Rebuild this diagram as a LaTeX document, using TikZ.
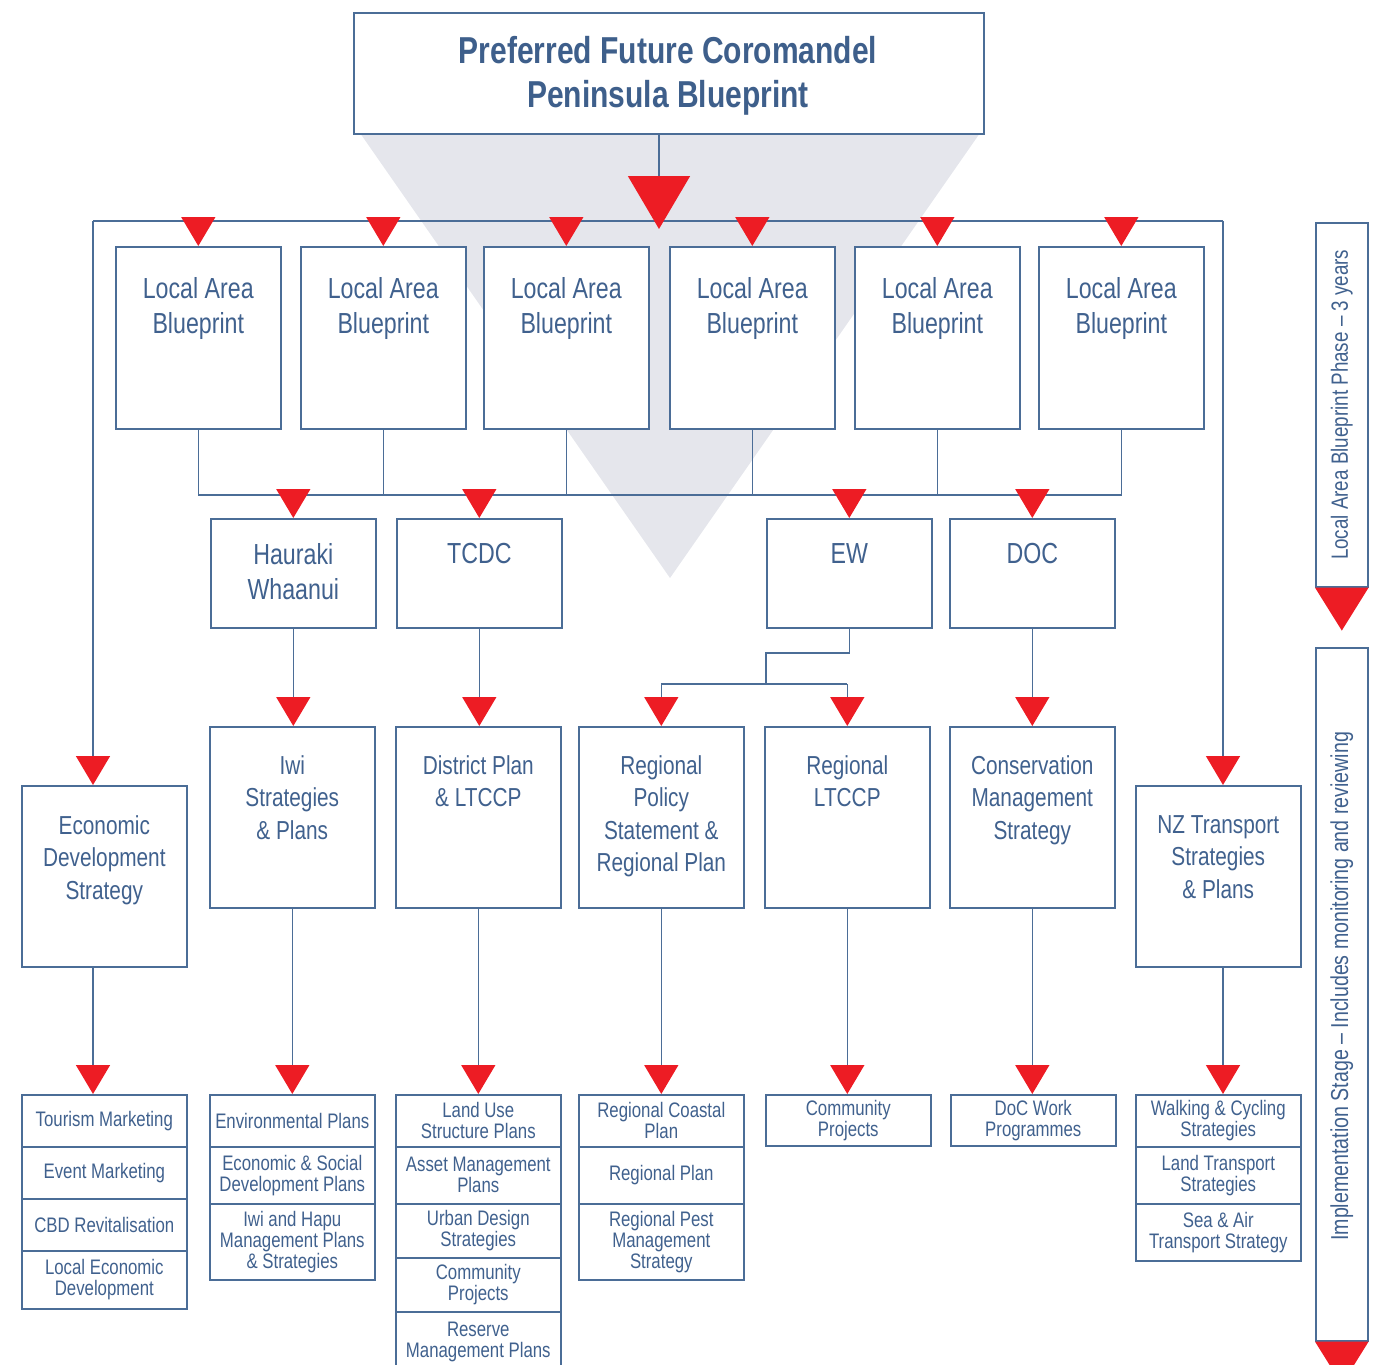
\documentclass[tikz,border=0pt]{standalone}
\usepackage{fontspec}
\setmainfont{Liberation Sans}[FakeStretch=0.8]
\usepackage{tikz}
\usetikzlibrary{arrows.meta}
\definecolor{cline}{HTML}{4B6D97}
\definecolor{ctext}{HTML}{40618E}
\definecolor{ctitle}{HTML}{3E5F8B}
\definecolor{tred}{HTML}{ED1C24}
\definecolor{tgray}{HTML}{E5E6EC}
\tikzset{
  conn/.style={draw=cline, line width=1.6pt},
  tip/.style={conn, -{Triangle[width=34pt, length=29pt, color=tred]}},
  bigtip/.style={conn, -{Triangle[width=62pt, length=53pt, color=tred]}},
  box/.style={shape=rectangle, draw=cline, line width=1.6pt, fill=white, anchor=north west, inner sep=0pt, minimum width=165pt},
  txt/.style={text=ctext, align=center, anchor=north, inner sep=0pt},
  big/.style={font=\fontsize{29}{35}\selectfont},
  mid/.style={font=\fontsize{26}{32.5}\selectfont},
  cell/.style={box, text=ctext, align=center, font=\fontsize{21}{21}\selectfont},
}
\begin{document}
\begin{tikzpicture}[x=1pt, y=-1pt]
\useasboundingbox (0,0) rectangle (1377,1365);
% grey wedge behind
\fill[tgray] (360,133) -- (980,133) -- (670,578) -- cycle;

\node at (353,12) [box, minimum width=630pt, minimum height=121pt] (title) {};
\node at (668,36) [txt, text=ctitle, font=\bfseries\fontsize{37.5}{44}\selectfont] (titlet) {Preferred Future Coromandel\\Peninsula Blueprint};

% local area blueprints
\node at (115,246) [box, minimum height=182pt] (lab1) {};
\node at (300,246) [box, minimum height=182pt] (lab2) {};
\node at (483,246) [box, minimum height=182pt] (lab3) {};
\node at (669,246) [box, minimum height=182pt] (lab4) {};
\node at (854,246) [box, minimum height=182pt] (lab5) {};
\node at (1038,246) [box, minimum height=182pt] (lab6) {};
\node at (lab1.north) [txt, big, yshift=-31pt] (lab1t) {Local Area\\Blueprint};
\node at (lab2.north) [txt, big, yshift=-31pt] (lab2t) {Local Area\\Blueprint};
\node at (lab3.north) [txt, big, yshift=-31pt] (lab3t) {Local Area\\Blueprint};
\node at (lab4.north) [txt, big, yshift=-31pt] (lab4t) {Local Area\\Blueprint};
\node at (lab5.north) [txt, big, yshift=-31pt] (lab5t) {Local Area\\Blueprint};
\node at (lab6.north) [txt, big, yshift=-31pt] (lab6t) {Local Area\\Blueprint};

% agencies
\node at (210,518) [box, minimum height=109pt] (hw) {};
\node at (396,518) [box, minimum height=109pt] (tcdc) {};
\node at (766,518) [box, minimum height=109pt] (ew) {};
\node at (949,518) [box, minimum height=109pt] (doc) {};
\node at (hw.north) [txt, big, yshift=-25pt] (hwt) {Hauraki\\Whaanui};
\node at (tcdc.north) [txt, big, yshift=-25pt] (tcdct) {TCDC};
\node at (ew.north) [txt, big, yshift=-25pt] (ewt) {EW};
\node at (doc.north) [txt, big, yshift=-25pt] (doct) {DOC};

% strategies and plans
\node at (21,785) [box, minimum height=181pt] (eds) {};
\node at (209,726) [box, minimum height=181pt] (iwi) {};
\node at (395,726) [box, minimum height=181pt] (dp) {};
\node at (578,726) [box, minimum height=181pt] (rps) {};
\node at (764,726) [box, minimum height=181pt] (rlt) {};
\node at (949,726) [box, minimum height=181pt] (cms) {};
\node at (1135,785) [box, minimum height=181pt] (nzt) {};
\node at (eds.north) [txt, mid, yshift=-30pt] (edst) {Economic\\Development\\Strategy};
\node at (iwi.north) [txt, mid, yshift=-29pt] (iwit) {Iwi\\Strategies\\\& Plans};
\node at (dp.north) [txt, mid, yshift=-29pt] (dpt) {District Plan\\\& LTCCP};
\node at (rps.north) [txt, mid, yshift=-29pt] (rpst) {Regional\\Policy\\Statement \&\\Regional Plan};
\node at (rlt.north) [txt, mid, yshift=-29pt] (rltt) {Regional\\LTCCP};
\node at (cms.north) [txt, mid, yshift=-29pt] (cmst) {Conservation\\Management\\Strategy};
\node at (nzt.north) [txt, mid, yshift=-30pt] (nztt) {NZ Transport\\Strategies\\\& Plans};

% outputs
\node at (21,1094) [cell, minimum height=52pt] (c1a) {Tourism Marketing};
\node at (21,1146) [cell, minimum height=52pt] (c1b) {Event Marketing};
\node at (21,1198) [cell, minimum height=52pt] (c1c) {CBD Revitalisation};
\node at (21,1250) [cell, minimum height=58pt] (c1d) {Local Economic\\Development};
\node at (209,1094) [cell, minimum height=52pt] (c2a) {Environmental Plans};
\node at (209,1146) [cell, minimum height=57pt] (c2b) {Economic \& Social\\Development Plans};
\node at (209,1203) [cell, minimum height=76pt] (c2c) {Iwi and Hapu\\Management Plans\\\& Strategies};
\node at (395,1094) [cell, minimum height=52pt] (c3a) {Land Use\\Structure Plans};
\node at (395,1146) [cell, minimum height=57pt] (c3b) {Asset Management\\Plans};
\node at (395,1203) [cell, minimum height=54pt] (c3c) {Urban Design\\Strategies};
\node at (395,1257) [cell, minimum height=54pt] (c3d) {Community\\Projects};
\node at (395,1311) [cell, minimum height=60pt] (c3e) {Reserve\\Management Plans};
\node at (578,1094) [cell, minimum height=52pt] (c4a) {Regional Coastal\\Plan};
\node at (578,1146) [cell, minimum height=57pt] (c4b) {Regional Plan};
\node at (578,1203) [cell, minimum height=76pt] (c4c) {Regional Pest\\Management\\Strategy};
\node at (765,1094) [cell, minimum height=51pt] (c5a) {Community\\Projects};
\node at (950,1094) [cell, minimum height=51pt] (c6a) {DoC Work\\Programmes};
\node at (1135,1094) [cell, minimum height=52pt] (c7a) {Walking \& Cycling\\Strategies};
\node at (1135,1146) [cell, minimum height=57pt] (c7b) {Land Transport\\Strategies};
\node at (1135,1203) [cell, minimum height=57pt] (c7c) {Sea \& Air\\Transport Strategy};

% phases on the right
\node at (1315,222) [box, minimum width=52pt, minimum height=364pt] (phase) {};
\node at (1315,647) [box, minimum width=52pt, minimum height=693pt] (impl) {};
\fill[tred] (phase.south west) -- (phase.south east) -- ([yshift=-43pt]phase.south) -- cycle;
\fill[tred] (impl.south west) -- (impl.south east) -- ([yshift=-43pt]impl.south) -- cycle;
\node at (phase.center) [rotate=90, text=ctext, inner sep=0pt, font=\fontsize{23.5}{26}\selectfont] (phaset) {Local Area Blueprint Phase – 3 years};
\node at ([yshift=8pt]impl.center) [rotate=90, text=ctext, inner sep=0pt, font=\fontsize{24.5}{26}\selectfont] (implt) {Implementation Stage – Includes monitoring and reviewing};

% connectors
\coordinate (apex) at (659,229);
\coordinate (busL) at (93,221);
\coordinate (busR) at (1223,221);
\coordinate (low) at (0,495);
\coordinate (ewjog) at (766,653);
\coordinate (ewbar) at (0,684);
\draw[conn] (busL) -- (busR);
\draw[bigtip] (title.south -| apex) -- (apex);
\draw[tip] (busL) -- (busL |- eds.north);
\draw[tip] (busR) -- (busR |- nzt.north);
\draw[tip] (lab1.north |- busL) -- (lab1.north);
\draw[tip] (lab2.north |- busL) -- (lab2.north);
\draw[tip] (lab3.north |- busL) -- (lab3.north);
\draw[tip] (lab4.north |- busL) -- (lab4.north);
\draw[tip] (lab5.north |- busL) -- (lab5.north);
\draw[tip] (lab6.north |- busL) -- (lab6.north);
\draw[conn] (lab1.south) -- (lab1.south |- low) -- (lab6.south |- low) -- (lab6.south);
\draw[conn] (lab2.south) -- (lab2.south |- low);
\draw[conn] (lab3.south) -- (lab3.south |- low);
\draw[conn] (lab4.south) -- (lab4.south |- low);
\draw[conn] (lab5.south) -- (lab5.south |- low);
\draw[tip] (hw.north |- low) -- (hw.north);
\draw[tip] (tcdc.north |- low) -- (tcdc.north);
\draw[tip] (ew.north |- low) -- (ew.north);
\draw[tip] (doc.north |- low) -- (doc.north);
\draw[tip] (hw.south) -- (hw.south |- iwi.north);
\draw[tip] (tcdc.south) -- (tcdc.south |- dp.north);
\draw[tip] (doc.south) -- (doc.south |- cms.north);
\draw[conn] (ew.south) |- (ewjog) -- (ewjog |- ewbar);
\draw[conn] (rps.north |- ewbar) -- (rlt.north |- ewbar);
\draw[tip] (rps.north |- ewbar) -- (rps.north);
\draw[tip] (rlt.north |- ewbar) -- (rlt.north);
%\draw[tip] (eds.south) -- (c1a.north);
\draw[tip] (busL |- eds.south) -- (busL |- c1a.north);
\draw[tip] (iwi.south) -- (iwi.south |- c2a.north);
\draw[tip] (dp.south) -- (dp.south |- c3a.north);
\draw[tip] (rps.south) -- (rps.south |- c4a.north);
\draw[tip] (rlt.south) -- (rlt.south |- c5a.north);
\draw[tip] (cms.south) -- (cms.south |- c6a.north);
\draw[tip] (busR |- nzt.south) -- (busR |- c7a.north);
\end{tikzpicture}
\end{document}
